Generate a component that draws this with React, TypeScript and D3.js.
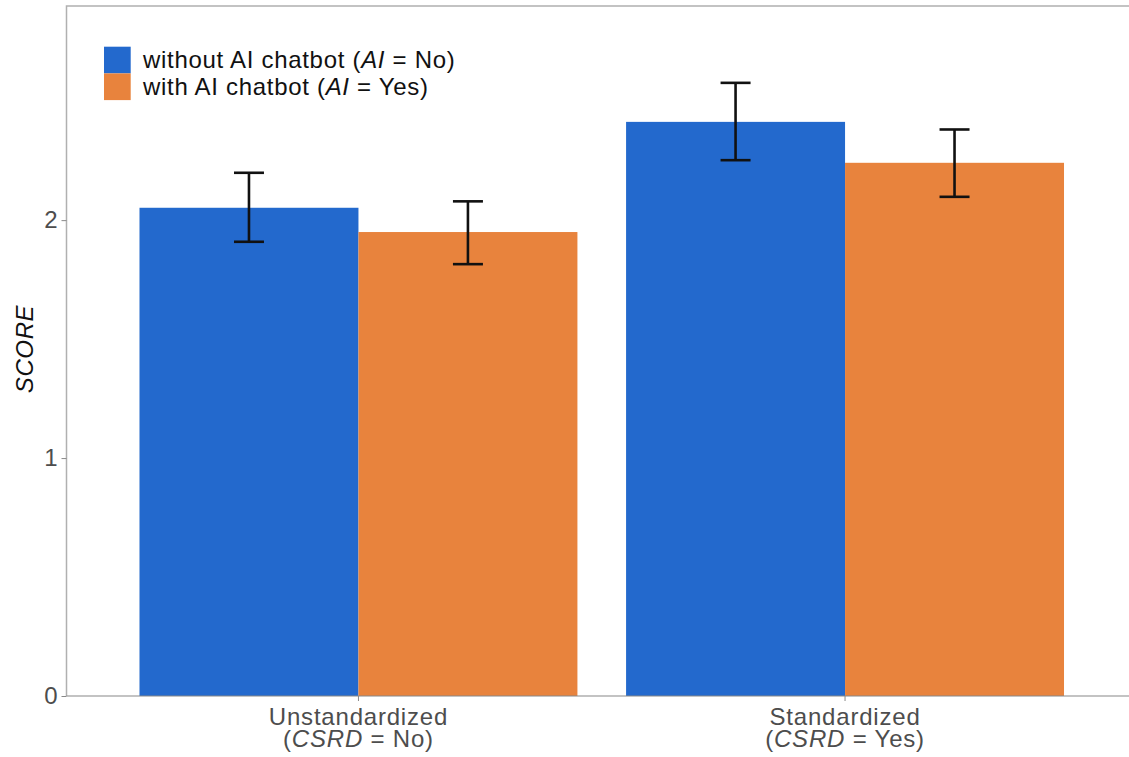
import React from "react";
import * as d3 from "d3";

// data
const groups = ["Unstandardized", "Standardized"];
const groupSub = ["No", "Yes"];
const series = ["without", "with"];
const seriesLabel = ["without AI chatbot (", "with AI chatbot ("];
const seriesSub = ["No", "Yes"];
const seriesColor = ["#2369CD", "#E8833D"];
const means = [
  [2.052, 1.95],
  [2.413, 2.241],
];
const lower = [
  [1.909, 1.815],
  [2.252, 2.098],
];
const upper = [
  [2.199, 2.079],
  [2.577, 2.381],
];
const yTicks = [0, 1, 2];

const W = 1129;
const H = 757;
const font = "'Liberation Sans', Arial, sans-serif";

export default function App() {
  const svgRef = React.useRef<SVGSVGElement>(null);

  React.useEffect(() => {
    const svg = d3.select(svgRef.current);
    svg.selectAll("*").remove();

    const left = 66.5;
    const top = 6;
    const bottom = 696;
    const right = 1137;

    const x = d3
      .scaleBand<string>()
      .domain(groups)
      .range([left, right])
      .paddingInner(0.1)
      .paddingOuter(0.15);
    const xs = d3
      .scaleBand<string>()
      .domain(series)
      .range([0, x.bandwidth()])
      .padding(0);
    const y = d3.scaleLinear().domain([0, 2.9]).range([bottom, top]);

    // bars
    groups.forEach((g, gi) => {
      series.forEach((s, si) => {
        svg
          .append("rect")
          .attr("x", x(g)! + xs(s)!)
          .attr("y", y(means[gi][si]))
          .attr("width", xs.bandwidth())
          .attr("height", y(0) - y(means[gi][si]))
          .attr("fill", seriesColor[si]);
      });
    });

    // error bars
    groups.forEach((g, gi) => {
      series.forEach((s, si) => {
        const cx = x(g)! + xs(s)! + xs.bandwidth() / 2;
        const eg = svg
          .append("g")
          .attr("stroke", "#111")
          .attr("stroke-width", 2.6)
          .attr("fill", "none");
        eg.append("line")
          .attr("x1", cx)
          .attr("x2", cx)
          .attr("y1", y(lower[gi][si]))
          .attr("y2", y(upper[gi][si]));
        [lower[gi][si], upper[gi][si]].forEach((v) => {
          eg.append("line")
            .attr("x1", cx - 15)
            .attr("x2", cx + 15)
            .attr("y1", y(v))
            .attr("y2", y(v));
        });
      });
    });

    // panel border (left + top), bottom axis line
    svg
      .append("path")
      .attr("d", `M${left},${bottom}V${top}H${W}`)
      .attr("fill", "none")
      .attr("stroke", "#b0b0b0")
      .attr("stroke-width", 1.5);
    svg
      .append("line")
      .attr("x1", left)
      .attr("x2", W)
      .attr("y1", bottom)
      .attr("y2", bottom)
      .attr("stroke", "#888")
      .attr("stroke-width", 1.2);

    // y axis
    const ya = svg
      .append("g")
      .attr("transform", `translate(${left},0)`)
      .call(d3.axisLeft(y).tickValues(yTicks).tickSize(5).tickPadding(4).tickFormat(d3.format("d")));
    ya.select(".domain").remove();
    ya.selectAll(".tick line").attr("stroke", "#888");
    ya.selectAll(".tick text")
      .attr("fill", "#4d4d4d")
      .style("font-family", font)
      .style("font-size", "24px");

    // x axis ticks
    groups.forEach((g) => {
      const cx = x(g)! + x.bandwidth() / 2;
      svg
        .append("line")
        .attr("x1", cx)
        .attr("x2", cx)
        .attr("y1", bottom)
        .attr("y2", bottom + 5)
        .attr("stroke", "#888");
    });

    // x axis labels
    groups.forEach((g, gi) => {
      const cx = x(g)! + x.bandwidth() / 2;
      const t = svg
        .append("text")
        .attr("text-anchor", "middle")
        .attr("fill", "#4d4d4d")
        .style("font-family", font)
        .style("font-size", "24px")
        .style("letter-spacing", "0.8px");
      t.append("tspan").attr("x", cx).attr("y", 725).text(g);
      const t2 = t.append("tspan").attr("x", cx).attr("y", 747);
      t2.append("tspan").text("(");
      t2.append("tspan").style("font-style", "italic").text("CSRD");
      t2.append("tspan").text(` = ${groupSub[gi]})`);
    });

    // y axis title
    svg
      .append("text")
      .attr("transform", `translate(33,349) rotate(-90)`)
      .attr("text-anchor", "middle")
      .attr("fill", "#111")
      .style("font-family", font)
      .style("font-size", "24px")
      .style("font-style", "italic")
      .style("letter-spacing", "0.6px")
      .text("SCORE");

    // legend
    series.forEach((s, si) => {
      const ly = 46.7 + si * 26.7;
      svg
        .append("rect")
        .attr("x", 104)
        .attr("y", ly)
        .attr("width", 26.7)
        .attr("height", 26.7)
        .attr("fill", seriesColor[si]);
      const t = svg
        .append("text")
        .attr("x", 143)
        .attr("y", ly + 21.6)
        .attr("fill", "#111")
        .style("font-family", font)
        .style("font-size", "24px")
        .style("letter-spacing", "0.7px");
      t.append("tspan").text(seriesLabel[si]);
      t.append("tspan").style("font-style", "italic").text("AI");
      t.append("tspan").text(` = ${seriesSub[si]})`);
    });
  }, []);

  return (
    <svg
      ref={svgRef}
      width={W}
      height={H}
      style={{ position: "absolute", left: 0, top: 0, background: "#fff" }}
    />
  );
}
